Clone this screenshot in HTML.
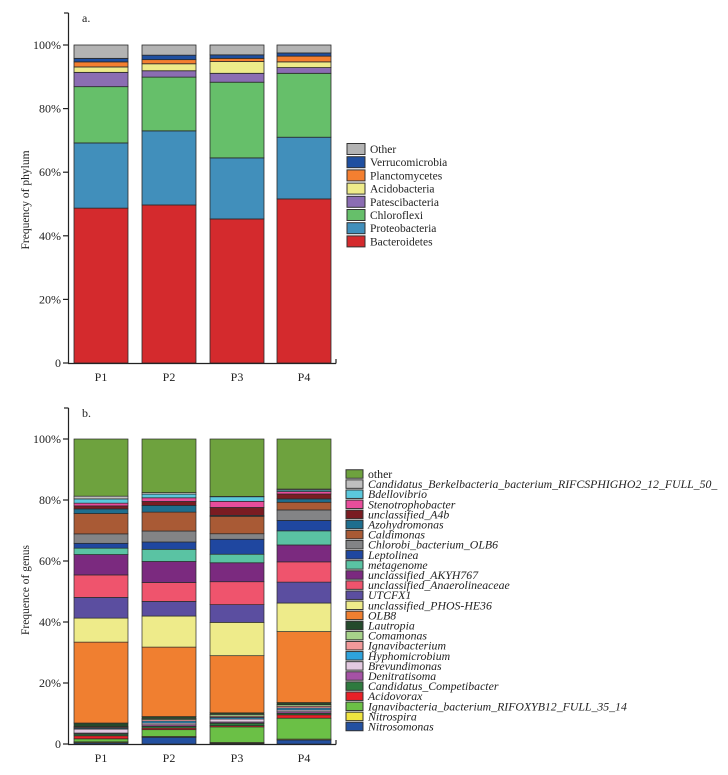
<!DOCTYPE html>
<html><head><meta charset="utf-8">
<style>
html,body{margin:0;padding:0;background:#fff;}
svg{display:block;font-family:"Liberation Serif",serif;}
</style></head>
<body>
<svg id="c" width="728" height="775" viewBox="0 0 728 775"></svg>
<script>
const samples = ["P1","P2","P3","P4"];
const phyla = ["Bacteroidetes","Proteobacteria","Chloroflexi","Patescibacteria","Acidobacteria","Planctomycetes","Verrucomicrobia","Other"];
const phylumColors = ["#d42a2d","#418fbb","#66bf6a","#8b6db3","#eeeb8a","#f47f30","#1f4fa0","#b3b3b3"];
const phylumP1 = [48.7,20.5,17.7,4.5,1.7,1.6,1.1,4.2];
const phylumP2 = [49.7,23.3,16.9,2.0,2.2,1.3,1.4,3.2];
const phylumP3 = [45.3,19.2,23.8,2.8,3.7,1.0,1.1,3.1];
const phylumP4 = [51.6,19.4,20.1,1.8,1.8,1.8,1.0,2.5];
const genera = ["Nitrosomonas","Nitrospira","Ignavibacteria_bacterium_RIFOXYB12_FULL_35_14","Acidovorax","Candidatus_Competibacter","Denitratisoma","Brevundimonas","Hyphomicrobium","Ignavibacterium","Comamonas","Lautropia","OLB8","unclassified_PHOS-HE36","UTCFX1","unclassified_Anaerolineaceae","unclassified_AKYH767","metagenome","Leptolinea","Chlorobi_bacterium_OLB6","Caldimonas","Azohydromonas","unclassified_A4b","Stenotrophobacter","Bdellovibrio","Candidatus_Berkelbacteria_bacterium_RIFCSPHIGHO2_12_FULL_50_","other"];
const genusColors = ["#2350a0","#f0e440","#6bc046","#e82027","#2e7a3e","#a552a5","#e3c9e0","#2ea3dc","#f2999a","#a7d38a","#244a2c","#f07f30","#eeeb8a","#5b4ea0","#ef546d","#7b2a7f","#5ac3a3","#1f47a0","#838486","#a95a35","#1e6e8e","#7a1c22","#e84d9b","#5bc8dc","#bfbfbf","#6ea23e"];
const genusP1 = [0.4,0.3,1.0,1.0,0.6,0.3,1.3,0.3,0.3,0.2,1.2,26.6,7.9,6.8,7.4,6.7,2.1,1.6,3.1,6.7,1.5,1.0,0.9,1.4,0.9,18.8];
const genusP2 = [2.2,0.3,2.2,0.5,0.6,0.5,0.6,0.6,0.5,0.4,0.6,22.8,10.2,4.8,6.2,6.9,4.0,2.4,3.6,6.2,2.2,1.3,1.2,1.2,0.5,17.6];
const genusP3 = [0.2,0.3,5.1,0.4,0.8,0.4,1.0,0.5,0.4,0.6,0.5,18.7,10.9,5.8,7.5,6.2,2.8,4.9,1.8,5.7,0.3,2.6,2.0,1.5,0.1,18.8];
const genusP4 = [1.3,0.3,6.8,1.1,0.5,0.5,0.6,0.6,0.6,0.5,0.7,23.1,9.3,6.8,6.6,5.5,4.6,3.4,3.4,2.5,1.1,1.6,0.8,0.5,0.3,16.3];
const yTicks = [0,20,40,60,80,100];

const NS="http://www.w3.org/2000/svg";
const svg=document.getElementById('c');
function mk(tag,attrs,parent){const e=document.createElementNS(NS,tag);for(const k in attrs)e.setAttribute(k,attrs[k]);(parent||svg).appendChild(e);return e;}
function txt(s,attrs,parent){const e=mk('text',attrs,parent);e.textContent=s;return e;}

function panel(cfg){
  const g=mk('g',{});
  
  
  const y=v=>cfg.y0-(v/100)*(cfg.y0-cfg.y100);
  const barX=[74,142,210,277], bw=54;
  const ya=mk('line',{x1:68.5,y1:cfg.axTop,x2:68.5,y2:cfg.y0+0.5,stroke:'#222','stroke-width':1.2},g);
  
  mk('line',{x1:64,y1:cfg.axTop,x2:68.5,y2:cfg.axTop,stroke:'#222','stroke-width':1.2},g);
  const xa=mk('line',{x1:68,y1:cfg.y0+0.5,x2:336,y2:cfg.y0+0.5,stroke:'#222','stroke-width':1.2},g);
  
  mk('line',{x1:336,y1:cfg.y0+0.5,x2:336,y2:cfg.y0-4,stroke:'#222','stroke-width':1.2},g);
  yTicks.forEach(t=>{
    const yy=y(t);
    mk('line',{x1:63,y1:yy,x2:68.5,y2:yy,stroke:'#222','stroke-width':1.2},g);
    const l=txt(t===0?'0':t+'%',{x:61,y:yy+4,'text-anchor':'end','font-size':12,fill:'#222'},g);
    
  });
  const lab=txt(cfg.letter,{x:82,y:cfg.axTop+9,'font-size':12,fill:'#222'},g);
  
  const yt=txt(cfg.ytitle,{x:0,y:0,'font-size':11.5,fill:'#222','text-anchor':'middle',transform:`translate(29,${cfg.titleY}) rotate(-90)`},g);
  
  cfg.series.forEach((vals,i)=>{
    const total=vals.reduce((a,b)=>a+b,0);
    let cum=0;
    vals.forEach((raw,j)=>{
      const v=raw/total*100;
      const r=mk('rect',{x:barX[i],y:y(cum+v),width:bw,height:Math.max(0,y(cum)-y(cum+v)),fill:cfg.colors[j],stroke:'#2a2a2a','stroke-width':cfg.sw},g);
      
      
      cum+=v;
    });
    const xl=txt(samples[i],{x:barX[i]+bw/2,y:cfg.y0+18,'text-anchor':'middle','font-size':12,fill:'#222'},g);
    
  });
  const n=cfg.cats.length;
  for(let k=0;k<n;k++){
    const j=n-1-k;
    const cy=cfg.legY+k*cfg.legStep;
    const le=mk('g',{},g);
    
    mk('rect',{x:cfg.legX,y:cy-cfg.sh/2,width:cfg.swW,height:cfg.sh,fill:cfg.colors[j],stroke:'#333','stroke-width':1},le);
    const it=cfg.italic && cfg.cats[j]!=='other';
    txt(cfg.cats[j],{x:cfg.legX+cfg.swW+5,y:cy+4,'font-size':cfg.lfs,'font-style':it?'italic':'normal',fill:'#222'},le);
  }
}
panel({name:'phylum-panel',letter:'a.',ytitle:'Frequency of phylum',titleY:200,axTop:13,y0:363,y100:45,
  series:[phylumP1,phylumP2,phylumP3,phylumP4],cats:phyla,colors:phylumColors,sw:0.8,
  legX:347,legY:149,legStep:13.2,swW:18,sh:11,lfs:11.5,italic:false});
panel({name:'genus-panel',letter:'b.',ytitle:'Frequence of genus',titleY:590,axTop:408,y0:744,y100:439,
  series:[genusP1,genusP2,genusP3,genusP4],cats:genera,colors:genusColors,sw:0.7,
  legX:346,legY:474,legStep:10.1,swW:17,sh:8.5,lfs:11.8,italic:true});
</script>
</body></html>
